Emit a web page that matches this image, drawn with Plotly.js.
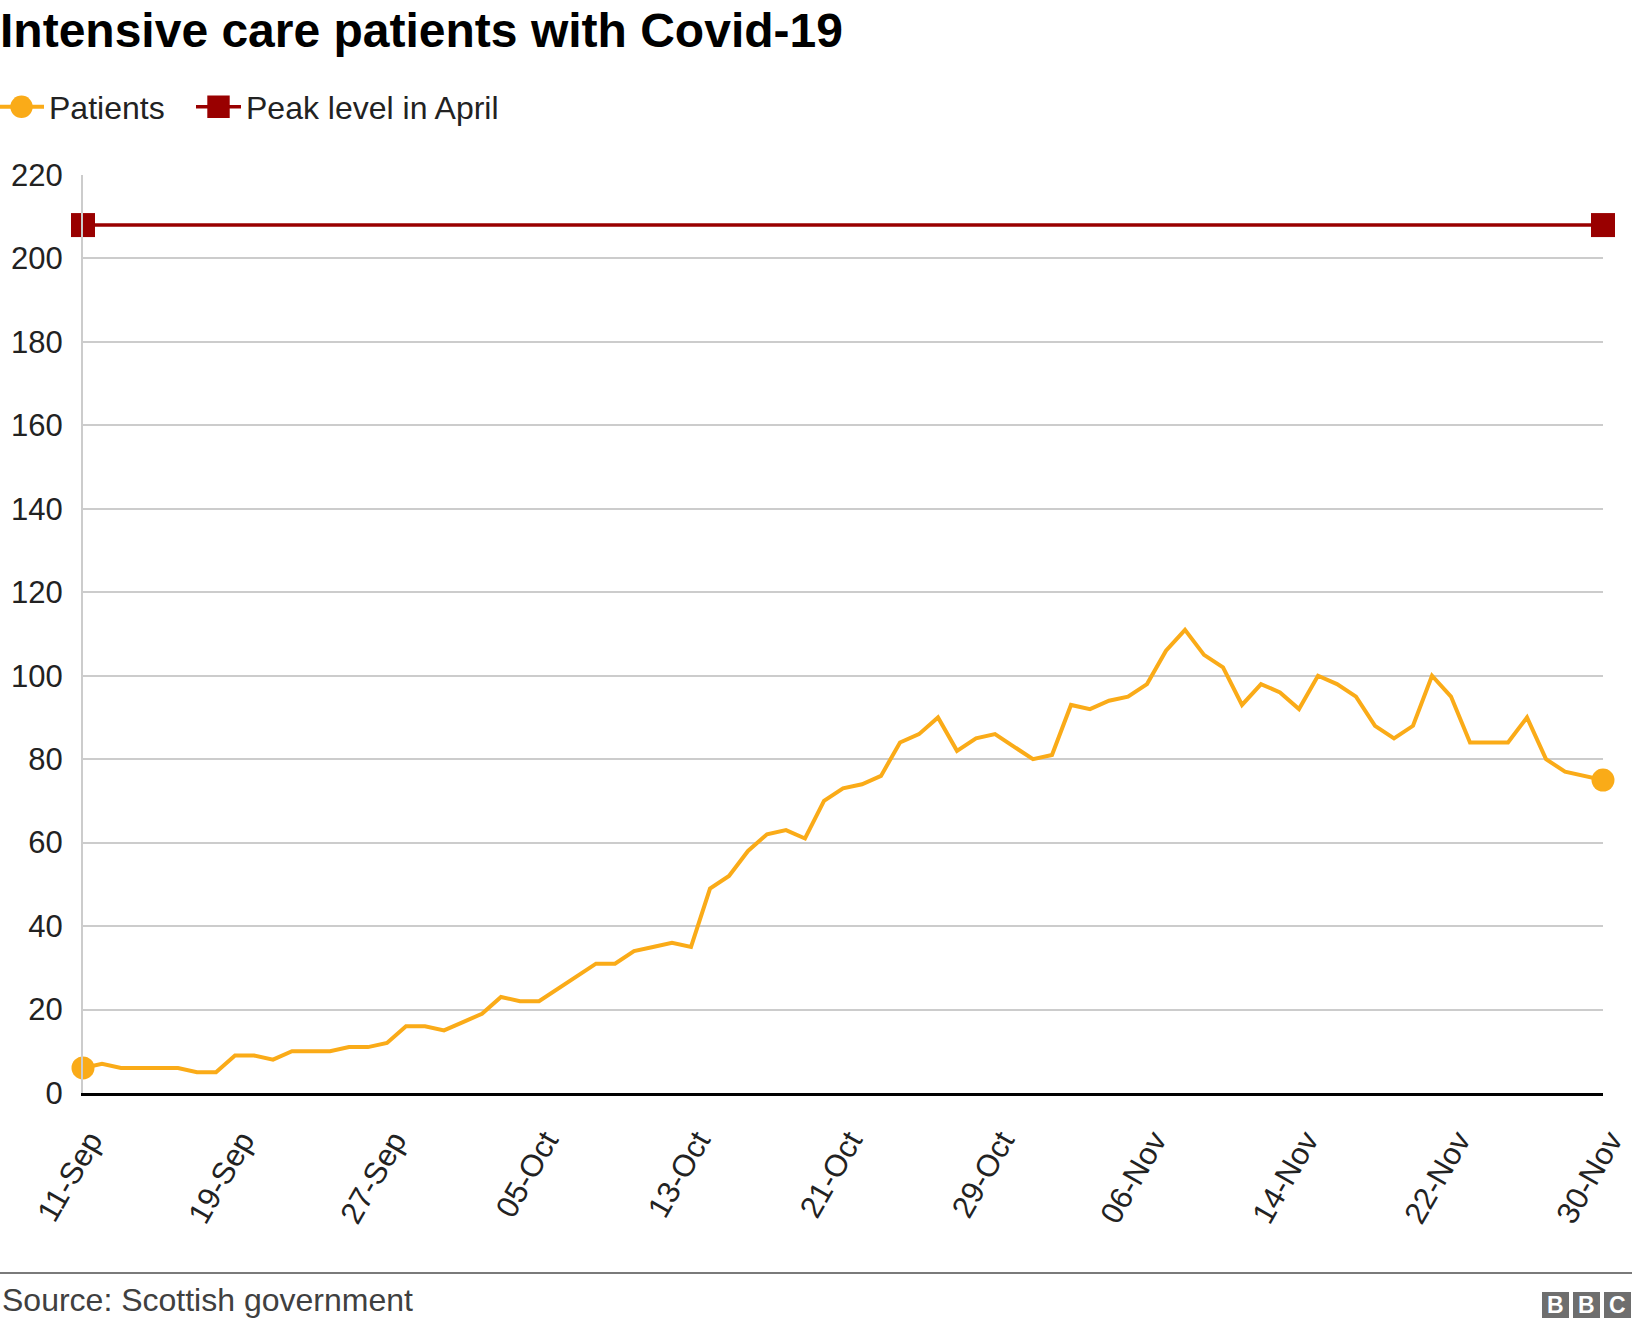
<!DOCTYPE html>
<html>
<head>
<meta charset="utf-8">
<script src="https://cdn.plot.ly/plotly-3.0.1.min.js"></script>
<style>
  html, body { margin: 0; padding: 0; background: #fff; }
  #chart { width: 1632px; height: 1328px; }
</style>
</head>
<body>
<div id="chart"></div>
<script>
/* ─── Data ─────────────────────────────────────────────────────────────── */
const dates = [
  "11-Sep","12-Sep","13-Sep","14-Sep","15-Sep","16-Sep","17-Sep","18-Sep","19-Sep","20-Sep",
  "21-Sep","22-Sep","23-Sep","24-Sep","25-Sep","26-Sep","27-Sep","28-Sep","29-Sep","30-Sep",
  "01-Oct","02-Oct","03-Oct","04-Oct","05-Oct","06-Oct","07-Oct","08-Oct","09-Oct","10-Oct",
  "11-Oct","12-Oct","13-Oct","14-Oct","15-Oct","16-Oct","17-Oct","18-Oct","19-Oct","20-Oct",
  "21-Oct","22-Oct","23-Oct","24-Oct","25-Oct","26-Oct","27-Oct","28-Oct","29-Oct","30-Oct",
  "31-Oct","01-Nov","02-Nov","03-Nov","04-Nov","05-Nov","06-Nov","07-Nov","08-Nov","09-Nov",
  "10-Nov","11-Nov","12-Nov","13-Nov","14-Nov","15-Nov","16-Nov","17-Nov","18-Nov","19-Nov",
  "20-Nov","21-Nov","22-Nov","23-Nov","24-Nov","25-Nov","26-Nov","27-Nov","28-Nov","29-Nov",
  "30-Nov"
];

const patients = [
  6, 7, 6, 6, 6, 6, 5, 5, 9, 9, 8,
  10, 10, 10, 11, 11, 12, 16, 16, 15, 17,
  19, 23, 22, 22, 25, 28, 31, 31, 34, 35,
  36, 35, 49, 52, 58, 62, 63, 61, 70, 73,
  74, 76, 84, 86, 90, 82, 85, 86, 83, 80,
  81, 93, 92, 94, 95, 98, 106, 111, 105, 102,
  93, 98, 96, 92, 100, 98, 95, 88, 85, 88,
  100, 95, 84, 84, 84, 90, 80, 77, 76, 75
];

const peakApril = 208;
const tickDates = dates.filter((d, i) => i % 8 === 0);

/* ─── Layout helpers (pixel -> paper) ──────────────────────────────────── */
const W = 1632, H = 1328;
const M = { l: 83, r: 29, t: 175, b: 235, autoexpand: false };
const PW = W - M.l - M.r, PH = H - M.t - M.b;
const px = x => (x - M.l) / PW;
const py = y => (H - M.b - y) / PH;

const ORANGE = "#FAAB18";
const RED = "#990000";
const FONT = "'Liberation Sans', Arial, Helvetica, sans-serif";

const last = patients.length - 1;
const markerColors = patients.map((v, i) => (i === 0 || i === last) ? ORANGE : "rgba(0,0,0,0)");

const traces = [
  {
    type: "scatter", mode: "lines+markers", name: "Patients", legend: "legend",
    x: dates, y: patients,
    line: { color: ORANGE, width: 4 },
    marker: { color: markerColors, size: 23, line: { width: 0 } },
    cliponaxis: false, hoverinfo: "x+y"
  },
  {
    type: "scatter", mode: "lines+markers", name: "Peak level in April", legend: "legend2",
    x: [dates[0], dates[last]], y: [peakApril, peakApril],
    line: { color: RED, width: 3.5 },
    marker: { color: RED, size: 24, symbol: "square" },
    cliponaxis: false, hoverinfo: "y"
  }
];

// BBC logo blocks
const logoX = [1542, 1573, 1604];
const shapes = [
  { type: "line", xref: "paper", yref: "paper", x0: px(0), x1: px(W), y0: py(1273), y1: py(1273),
    line: { color: "#7a7a7a", width: 2 } }
].concat(logoX.map(x => ({
  type: "rect", xref: "paper", yref: "paper", x0: px(x), x1: px(x + 27), y0: py(1292), y1: py(1318),
  fillcolor: "#6e6e6e", line: { width: 0 }
})));

const annotations = [
  { text: "Source: Scottish government", xref: "paper", yref: "paper", x: px(0), y: py(1300),
    xanchor: "left", yanchor: "middle", showarrow: false,
    font: { family: FONT, size: 32, color: "#404040" } }
].concat(["B", "B", "C"].map((t, i) => ({
  text: "<b>" + t + "</b>", xref: "paper", yref: "paper", x: px(logoX[i] + 13.5), y: py(1305),
  xanchor: "center", yanchor: "middle", showarrow: false,
  font: { family: FONT, size: 23, color: "#ffffff" }
})));

const legendBase = {
  orientation: "h", xanchor: "left", yref: "container", y: 1 - 107 / H, yanchor: "middle",
  font: { family: FONT, size: 32, color: "#222222" },
  itemwidth: 45, bgcolor: "rgba(0,0,0,0)"
};

const layout = {
  width: W, height: H,
  margin: M,
  paper_bgcolor: "#ffffff", plot_bgcolor: "#ffffff",
  font: { family: FONT, color: "#222222", size: 31 },
  title: {
    text: "<b>Intensive care patients with Covid-19</b>",
    xref: "container", yref: "container", x: 0, xanchor: "left",
    y: 1 - 30 / H, yanchor: "middle", pad: { l: 0, t: 0, r: 0, b: 0 },
    font: { family: FONT, size: 48, color: "#000000" }
  },
  showlegend: true,
  legend: Object.assign({}, legendBase, { xref: "paper", x: px(-6) }),
  legend2: Object.assign({}, legendBase, { xref: "container", x: 191 / W }),
  xaxis: {
    type: "category", range: [0, last], automargin: false,
    tickvals: tickDates, ticktext: tickDates,
    tickangle: -60, ticks: "", ticklabelstandoff: 14, ticklabelshift: 7,
    showgrid: false, zeroline: false,
    showline: true, linecolor: "#000000", linewidth: 3,
    tickfont: { family: FONT, size: 31, color: "#222222" },
    fixedrange: true
  },
  yaxis: {
    range: [0, 220], dtick: 20, tick0: 0, automargin: false,
    showgrid: true, gridcolor: "#cccccc", gridwidth: 2,
    zeroline: false, showline: true, linecolor: "#cccccc", linewidth: 2,
    ticks: "", ticklabelstandoff: 12,
    tickfont: { family: FONT, size: 31, color: "#222222" },
    fixedrange: true
  },
  shapes: shapes,
  annotations: annotations
};

Plotly.newPlot("chart", traces, layout, { displayModeBar: false, staticPlot: true }).then(gd => {
  // legend symbols are capped at 16px by Plotly; enlarge them to match the markers
  gd.querySelectorAll(".legendpoints path.scatterpts").forEach(p => {
    const t = p.getAttribute("transform") || "";
    p.setAttribute("transform", t + " scale(1.4)");
  });
});
</script>
</body>
</html>
